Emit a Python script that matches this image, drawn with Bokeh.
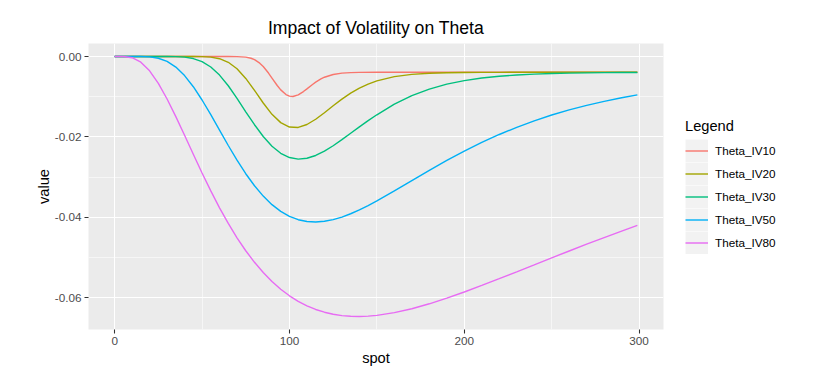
from bokeh.plotting import figure
from bokeh.models import (Range1d, FixedTicker, NumeralTickFormatter, Legend,
                          LegendItem)
from bokeh.embed import file_html
from bokeh.resources import INLINE

# ---------------- data ----------------
spot = [0, 5, 10, 15, 20, 25, 30, 35, 40, 45, 50, 55, 60, 65, 70, 75, 80, 85,
        90, 95, 100, 105, 110, 115, 120, 125, 130, 135, 140, 145, 150,
        160, 170, 180, 190, 200, 210, 220, 230, 240, 250, 260, 270, 280, 290, 299]

# the IV10 curve has a narrow dip, so it is read at finer spot values
spot_iv10 = [0, 60, 65, 70, 75, 78, 80, 83, 85, 88, 90, 93, 95, 98, 100, 102,
             105, 108, 110, 113, 115, 118, 120, 125, 130, 135, 140, 150, 200,
             250, 299]

theta_iv10 = [0.0, 0.0, 0.0, -0.00002, -0.00015, -0.00043, -0.00078, -0.00165,
              -0.00249, -0.00412, -0.00536, -0.00722, -0.00830, -0.00947,
              -0.00987, -0.00995, -0.00955, -0.00872, -0.00805, -0.00702,
              -0.00639, -0.00559, -0.00516, -0.00447, -0.00413, -0.00400,
              -0.00395, -0.00393, -0.00393, -0.00393, -0.00393]

theta_iv20 = [0.0, 0.0, 0.0, 0.0, 0.0, 0.0, 0.0, 0.0, 0.0, 0.0,
              -0.00003, -0.00016, -0.00055, -0.00144, -0.00305, -0.00545, -0.00842,
              -0.01157, -0.01438, -0.01645, -0.01754, -0.01765, -0.01692, -0.01561,
              -0.01398, -0.01225, -0.01059, -0.00911, -0.00786, -0.00685, -0.00605,
              -0.00500, -0.00444, -0.00416, -0.00403, -0.00397, -0.00395, -0.00394,
              -0.00393, -0.00393, -0.00393, -0.00393, -0.00393, -0.00393, -0.00393,
              -0.00393]

theta_iv30 = [0.0, 0.0, 0.0, 0.0, 0.0, 0.0,
              -0.00001, -0.00003, -0.00016, -0.00051, -0.00127, -0.00261, -0.00463,
              -0.00728, -0.01040, -0.01377, -0.01697, -0.01991, -0.02231, -0.02408,
              -0.02513, -0.02552, -0.02532, -0.02462, -0.02354, -0.02220, -0.02069,
              -0.01910, -0.01750, -0.01594, -0.01450,
              -0.01186, -0.00974, -0.00811, -0.00688, -0.00599, -0.00536, -0.00491,
              -0.00460, -0.00438, -0.00424, -0.00414, -0.00407, -0.00402, -0.00399,
              -0.00397]

theta_iv50 = [0.0, 0.0, 0.0,
              -0.00001, -0.00010, -0.00044, -0.00122, -0.00264, -0.00475, -0.00752,
              -0.01082, -0.01448, -0.01832, -0.02214, -0.02579, -0.02916, -0.03215,
              -0.03473, -0.03685, -0.03853, -0.03977, -0.04060, -0.04106, -0.04118,
              -0.04100, -0.04058, -0.03994, -0.03912, -0.03816, -0.03709, -0.03593,
              -0.03344, -0.03087, -0.02831, -0.02585, -0.02352, -0.02137, -0.01940,
              -0.01761, -0.01600, -0.01456, -0.01329, -0.01215, -0.01115, -0.01027,
              -0.00956]

theta_iv80 = [0.0, -0.00001, -0.00031, -0.00141, -0.00356, -0.00669, -0.01058,
              -0.01496, -0.01961, -0.02433, -0.02897, -0.03343, -0.03764, -0.04153,
              -0.04510, -0.04832, -0.05120, -0.05375, -0.05597, -0.05790, -0.05953,
              -0.06090, -0.06203, -0.06293, -0.06361, -0.06412, -0.06446, -0.06463,
              -0.06468, -0.06459, -0.06440,
              -0.06373, -0.06275, -0.06152, -0.06012, -0.05859, -0.05696, -0.05528,
              -0.05356, -0.05183, -0.05009, -0.04838, -0.04669, -0.04504, -0.04343,
              -0.04201]

series_names = ["Theta_IV10", "Theta_IV20", "Theta_IV30", "Theta_IV50", "Theta_IV80"]
series_colors = ["#F8766D", "#A3A500", "#00BF7D", "#00B0F6", "#E76BF3"]

x_ticks = [0, 100, 200, 300]
x_minor_ticks = [50, 150, 250]
y_ticks = [-0.06, -0.04, -0.02, 0.0]
y_minor_ticks = [-0.05, -0.03, -0.01]

title_text = "Impact of Volatility on Theta"
x_label = "spot"
y_label = "value"
legend_title = "Legend"

series_x = [spot_iv10, spot, spot, spot, spot]
series_values = [theta_iv10, theta_iv20, theta_iv30, theta_iv50, theta_iv80]
for xs, s in zip(series_x, series_values):
    assert len(s) == len(xs)

# ---------------- ranges (ggplot style 5% expansion) ----------------
all_x = [v for xs in series_x for v in xs]
xmin, xmax = min(all_x), max(all_x)
xpad = (xmax - xmin) * 0.05
all_y = [v for s in series_values for v in s]
ymin, ymax = min(all_y), max(all_y)
ypad = (ymax - ymin) * 0.05

FONT = "Liberation Sans"

p = figure(frame_width=575, frame_height=286, output_backend="svg",
           toolbar_location=None,
           x_range=Range1d(xmin - xpad, xmax + xpad),
           y_range=Range1d(ymin - ypad, ymax + ypad),
           title=title_text)
p.min_border_left = 88
p.min_border_right = 150
p.min_border_top = 43
p.min_border_bottom = 46

p.background_fill_color = "#EBEBEB"
p.border_fill_color = "white"
p.outline_line_color = None

p.title.align = "center"
p.title.text_font = FONT
p.title.text_font_size = "17.6px"
p.title.text_font_style = "normal"
p.title.text_color = "black"
p.title.standoff = 12

p.xaxis.ticker = FixedTicker(ticks=x_ticks, minor_ticks=x_minor_ticks)
p.yaxis.ticker = FixedTicker(ticks=y_ticks, minor_ticks=y_minor_ticks)
p.yaxis.formatter = NumeralTickFormatter(format="0.00")
p.xaxis.formatter = NumeralTickFormatter(format="0")

for ax in (p.xaxis, p.yaxis):
    ax.axis_line_color = None
    ax.major_tick_line_color = "#333333"
    ax.major_tick_line_width = 1.07
    ax.major_tick_out = 4
    ax.major_tick_in = 0
    ax.minor_tick_out = 0
    ax.minor_tick_in = 0
    ax.major_label_text_font = FONT
    ax.major_label_text_font_size = "11.73px"
    ax.major_label_text_color = "#4D4D4D"
    ax.major_label_standoff = 3
    ax.axis_label_text_font = FONT
    ax.axis_label_text_font_size = "14.67px"
    ax.axis_label_text_font_style = "normal"
    ax.axis_label_text_color = "black"

p.xaxis.axis_label = x_label
p.yaxis.axis_label = y_label
p.xaxis.axis_label_standoff = 2
p.yaxis.axis_label_standoff = 0

for g in (p.xgrid, p.ygrid):
    g.grid_line_color = "white"
    g.grid_line_width = 1.07
    g.minor_grid_line_color = "white"
    g.minor_grid_line_width = 0.55

# renderer with no drawable points, used only to paint the grey legend-key background
nan = float("nan")
key_bg = p.line([nan, nan], [nan, nan], line_color="#F2F2F2", line_width=23,
                line_cap="butt")

items = []
for name, color, xs, vals in zip(series_names, series_colors, series_x, series_values):
    r = p.line(xs, vals, line_color=color, line_width=1.4)
    items.append(LegendItem(label=name, renderers=[key_bg, r]))

legend = Legend(items=items, location="center_left", title=legend_title)
legend.title_text_font = FONT
legend.title_text_font_size = "14.67px"
legend.title_text_font_style = "normal"
legend.title_text_color = "black"
legend.title_standoff = 5
legend.label_text_font = FONT
legend.label_text_font_size = "11.73px"
legend.label_text_color = "black"
legend.glyph_width = 23
legend.glyph_height = 23
legend.label_height = 23
legend.label_standoff = 7
legend.spacing = 0
legend.padding = 0
legend.margin = 22
legend.background_fill_alpha = 0
legend.border_line_alpha = 0
p.add_layout(legend, "right")

open("out.html", "w").write(file_html(p, INLINE))
